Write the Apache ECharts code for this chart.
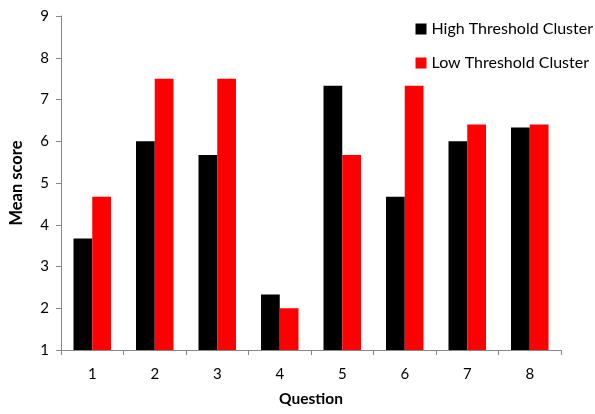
<!DOCTYPE html>
<html><head><meta charset="utf-8">
<script src="https://cdn.jsdelivr.net/npm/echarts@6/dist/echarts.min.js"></script>
<style>html,body{margin:0;padding:0;background:#fff}#c{width:595px;height:414px}</style>
</head><body><div id="c"></div>
<script>
const categories = ['1','2','3','4','5','6','7','8'];
const highThreshold = [3.67, 6.0, 5.67, 2.33, 7.33, 4.67, 6.0, 6.33];
const lowThreshold = [4.67, 7.5, 7.5, 2.0, 5.67, 7.33, 6.4, 6.4];
const seriesNames = ['High Threshold Cluster', 'Low Threshold Cluster'];

const font = 'Lato, "Open Sans", sans-serif';
const chart = echarts.init(document.getElementById('c'), null, {renderer:'canvas'});
chart.setOption({
  animation: false,
  backgroundColor: '#fff',
  grid: {left: 58, right: 34, top: 16, bottom: 64},
  legend: {
    orient: 'vertical', right: 2, top: 21, itemWidth: 11, itemHeight: 11, itemGap: 18,
    icon: 'rect', padding: 0,
    textStyle: {fontFamily: font, fontSize: 16, color: '#000'},
    data: seriesNames
  },
  xAxis: {
    type: 'category', data: categories,
    name: 'Question', nameLocation: 'middle', nameGap: 41,
    nameTextStyle: {fontFamily: font, fontSize: 15.5, fontWeight: 'bold', color: '#000'},
    axisLine: {lineStyle: {color: '#888', width: 1}},
    axisTick: {show: true, length: 5, lineStyle: {color: '#888'}},
    axisLabel: {fontFamily: font, fontSize: 15, color: '#000', margin: 17}
  },
  yAxis: {
    type: 'value', min: 1, max: 9, interval: 1,
    name: 'Mean score', nameLocation: 'middle', nameGap: 36, nameRotate: 90,
    nameTextStyle: {fontFamily: font, fontSize: 16.5, fontWeight: 'bold', color: '#000'},
    axisLine: {show: true, lineStyle: {color: '#888', width: 1}},
    axisTick: {show: true, length: 5, lineStyle: {color: '#888'}},
    splitLine: {show: false},
    axisLabel: {fontFamily: font, fontSize: 15, color: '#000', margin: 12}
  },
  series: [
    {name: seriesNames[0], type: 'bar', data: highThreshold, itemStyle: {color: '#000'}, barGap: '0%', barCategoryGap: '40%'},
    {name: seriesNames[1], type: 'bar', data: lowThreshold, itemStyle: {color: '#ff0000'}, barGap: '0%', barCategoryGap: '40%'}
  ]
});
</script></body></html>
